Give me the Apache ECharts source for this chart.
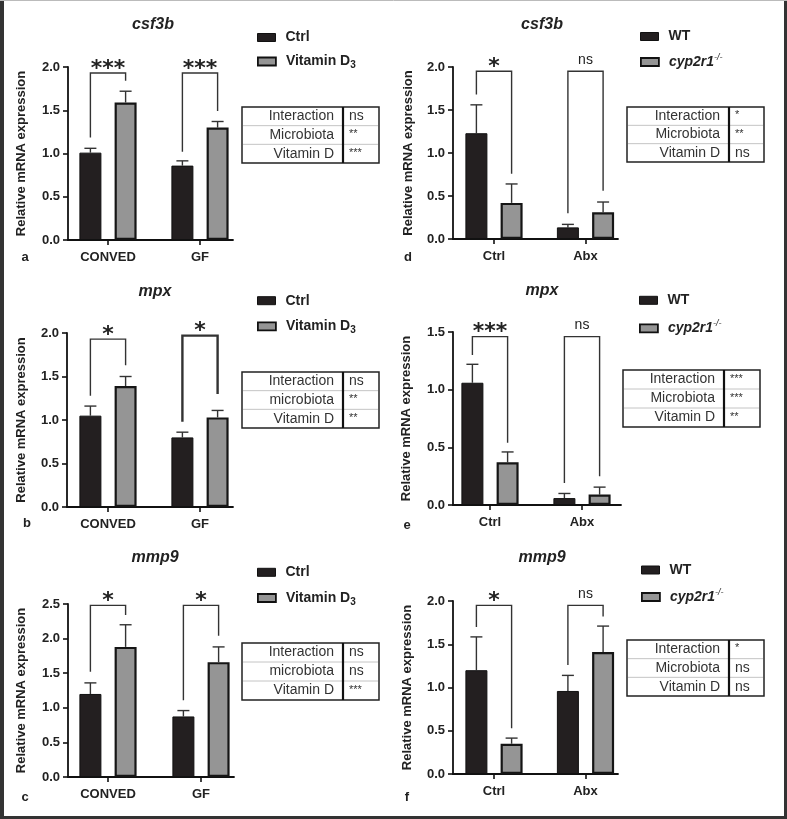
<!DOCTYPE html>
<html><head><meta charset="utf-8">
<script src="https://cdn.jsdelivr.net/npm/echarts@6/dist/echarts.min.js"></script>
<style>html,body{margin:0;padding:0;background:#fff}#c{width:787px;height:819px}</style>
</head><body><div id="c"></div>
<script>
// ---------- DATA ----------
const vitCategories = ['CONVED', 'GF'];
const abxCategories = ['Ctrl', 'Abx'];
const vitSeriesNames = ['Ctrl', 'Vitamin D3'];
const abxSeriesNames = ['WT', 'cyp2r1-/-'];
const geneTitles = ['csf3b', 'mpx', 'mmp9', 'csf3b', 'mpx', 'mmp9'];
const panelLetters = ['a', 'b', 'c', 'd', 'e', 'f'];
const yTickMax = [2.0, 2.0, 2.5, 2.0, 1.5, 2.0];
const yTickInterval = 0.5;
const yAxisTitle = 'Relative mRNA expression';

// panel a: csf3b, Ctrl vs Vitamin D3
const csf3bVitCtrl = [1.01, 0.86];
const csf3bVitCtrlSem = [0.05, 0.055];
const csf3bVitD3 = [1.59, 1.30];
const csf3bVitD3Sem = [0.13, 0.07];
// panel b: mpx
const mpxVitCtrl = [1.05, 0.80];
const mpxVitCtrlSem = [0.11, 0.06];
const mpxVitD3 = [1.39, 1.03];
const mpxVitD3Sem = [0.11, 0.08];
// panel c: mmp9
const mmp9VitCtrl = [1.20, 0.875];
const mmp9VitCtrlSem = [0.16, 0.085];
const mmp9VitD3 = [1.88, 1.66];
const mmp9VitD3Sem = [0.32, 0.22];
// panel d: csf3b WT vs cyp2r1-/-
const csf3bWT = [1.23, 0.135];
const csf3bWTSem = [0.33, 0.035];
const csf3bCyp = [0.42, 0.31];
const csf3bCypSem = [0.22, 0.12];
// panel e: mpx
const mpxWT = [1.06, 0.06];
const mpxWTSem = [0.16, 0.04];
const mpxCyp = [0.37, 0.09];
const mpxCypSem = [0.09, 0.065];
// panel f: mmp9
const mmp9WT = [1.20, 0.96];
const mmp9WTSem = [0.385, 0.18];
const mmp9Cyp = [0.35, 1.41];
const mmp9CypSem = [0.065, 0.30];

// significance brackets: [bracket top, left leg end, right leg end]
const csf3bVitBrackets = [[1.93, 1.185, 1.84], [1.93, 1.02, 1.49]];
const csf3bVitSig = ['***', '***'];
const mpxVitBrackets = [[1.93, 1.28, 1.63], [1.97, 0.98, 1.30]];
const mpxVitSig = ['*', '*'];
const mmp9VitBrackets = [[2.48, 1.52, 2.34], [2.48, 1.11, 2.04]];
const mmp9VitSig = ['*', '*'];
const csf3bAbxBrackets = [[1.95, 1.68, 0.76], [1.95, 0.30, 0.56]];
const csf3bAbxSig = ['*', 'ns'];
const mpxAbxBrackets = [[1.46, 1.30, 0.54], [1.46, 0.19, 0.25]];
const mpxAbxSig = ['***', 'ns'];
const mmp9AbxBrackets = [[1.95, 1.70, 0.53], [1.95, 1.26, 1.82]];
const mmp9AbxSig = ['*', 'ns'];

// two-way ANOVA tables
const tableRowsUpper = ['Interaction', 'Microbiota', 'Vitamin D'];
const tableRowsLower = ['Interaction', 'microbiota', 'Vitamin D'];
const csf3bVitTable = ['ns', '**', '***'];
const mpxVitTable = ['ns', '**', '**'];
const mmp9VitTable = ['ns', 'ns', '***'];
const csf3bAbxTable = ['*', '**', 'ns'];
const mpxAbxTable = ['***', '***', '**'];
const mmp9AbxTable = ['*', 'ns', 'ns'];

// ---------- LAYOUT ----------
const FONT = '"Liberation Sans", Arial, sans-serif';
const BAR_W = 22, BAR_GAP = 0.6;
const HALF = (BAR_W + BAR_W * BAR_GAP) / 2;
const CAP = 6;
const DARK = '#231f20', GRAY = '#959595', INK = '#222';

const panels = [
  {cats: vitCategories, names: vitSeriesNames, s: [csf3bVitCtrl, csf3bVitD3], e: [csf3bVitCtrlSem, csf3bVitD3Sem], br: csf3bVitBrackets, sig: csf3bVitSig, rows: tableRowsUpper, tbl: csf3bVitTable, thick: -1,
   L: {ax: 68, axEnd: 233, top: 67, bottom: 240, c0: 108, c1: 200, nameGap: 40, tx: 153, ty: 25, lx: 25, ly: 257, legX: 257, legY: [39.5, 63.5], box: [242, 107, 379, 163, 343]}},
  {cats: vitCategories, names: vitSeriesNames, s: [mpxVitCtrl, mpxVitD3], e: [mpxVitCtrlSem, mpxVitD3Sem], br: mpxVitBrackets, sig: mpxVitSig, rows: tableRowsLower, tbl: mpxVitTable, thick: 1,
   L: {ax: 67, axEnd: 233, top: 333, bottom: 507, c0: 108, c1: 200, nameGap: 39, tx: 155, ty: 292, lx: 27, ly: 523, legX: 257, legY: [302.7, 328.3], box: [242, 372, 379, 428, 343]}},
  {cats: vitCategories, names: vitSeriesNames, s: [mmp9VitCtrl, mmp9VitD3], e: [mmp9VitCtrlSem, mmp9VitD3Sem], br: mmp9VitBrackets, sig: mmp9VitSig, rows: tableRowsLower, tbl: mmp9VitTable, thick: -1,
   L: {ax: 68, axEnd: 234, top: 604, bottom: 777, c0: 108, c1: 201, nameGap: 40, tx: 155, ty: 558, lx: 25, ly: 797, legX: 257, legY: [574.3, 600], box: [242, 643, 379, 700, 343]}},
  {cats: abxCategories, names: abxSeriesNames, s: [csf3bWT, csf3bCyp], e: [csf3bWTSem, csf3bCypSem], br: csf3bAbxBrackets, sig: csf3bAbxSig, rows: tableRowsUpper, tbl: csf3bAbxTable, thick: -1,
   L: {ax: 453, axEnd: 618, top: 67, bottom: 239, c0: 494, c1: 585.5, nameGap: 38, tx: 542, ty: 25, lx: 408, ly: 257, legX: 640, legY: [38.5, 62], box: [627, 107, 764, 162, 729]}},
  {cats: abxCategories, names: abxSeriesNames, s: [mpxWT, mpxCyp], e: [mpxWTSem, mpxCypSem], br: mpxAbxBrackets, sig: mpxAbxSig, rows: tableRowsUpper, tbl: mpxAbxTable, thick: -1,
   L: {ax: 453, axEnd: 621, top: 332, bottom: 505, c0: 490, c1: 582, nameGap: 40, tx: 542, ty: 291, lx: 407, ly: 525, legX: 639, legY: [302.3, 328.3], box: [623, 370, 760, 427, 724]}},
  {cats: abxCategories, names: abxSeriesNames, s: [mmp9WT, mmp9Cyp], e: [mmp9WTSem, mmp9CypSem], br: mmp9AbxBrackets, sig: mmp9AbxSig, rows: tableRowsUpper, tbl: mmp9AbxTable, thick: -1,
   L: {ax: 453, axEnd: 618, top: 601, bottom: 774, c0: 494, c1: 585.5, nameGap: 39, tx: 542, ty: 558, lx: 407, ly: 797, legX: 641, legY: [572, 597], box: [627, 640, 764, 696, 729]}}
];

// ---------- RENDERERS ----------
function errRender(params, api) {
  const cat = api.value(0), m = api.value(1), s = api.value(2), slot = api.value(3);
  const b = api.coord([cat, m]);
  const t = api.coord([cat, m + s]);
  const x = b[0] + slot * HALF;
  return {type: 'group', children: [
    {type: 'line', shape: {x1: x, y1: b[1], x2: x, y2: t[1]}, style: {stroke: '#333', lineWidth: 1.4}},
    {type: 'line', shape: {x1: x - CAP, y1: t[1], x2: x + CAP, y2: t[1]}, style: {stroke: '#333', lineWidth: 1.4}}
  ]};
}
function bracketRender(sigArr, thickIdx) {
  return function (params, api) {
    const cat = api.value(0);
    const pT = api.coord([cat, api.value(1)]);
    const pL = api.coord([cat, api.value(2)]);
    const pR = api.coord([cat, api.value(3)]);
    const xl = pT[0] - HALF, xr = pT[0] + HALF;
    const lw = thickIdx === params.dataIndex ? 2.4 : 1.4;
    const txt = sigArr[params.dataIndex];
    const isNs = txt === 'ns';
    return {type: 'group', children: [
      {type: 'polyline', shape: {points: [[xl, pL[1]], [xl, pT[1]], [xr, pT[1]], [xr, pR[1]]]}, style: {stroke: '#333', lineWidth: lw, fill: null}},
      {type: 'text', x: pT[0], y: pT[1] - (isNs ? 11 : 4),
       style: {text: txt, align: 'center', verticalAlign: 'middle', fill: INK,
               font: isNs ? '14px ' + FONT : 'bold 22px "DejaVu Sans", sans-serif'}}
    ]};
  };
}

// ---------- BUILD OPTION ----------
const grid = [], xAxis = [], yAxis = [], series = [], legend = [], graphic = [];

panels.forEach((p, i) => {
  const L = p.L;
  const band = L.c1 - L.c0;
  const gBleft = L.c0 - band / 2;
  const h = L.bottom - L.top;
  grid.push({left: L.ax, top: L.top, width: L.axEnd - L.ax, height: h, containLabel: false});
  grid.push({left: gBleft, top: L.top, width: band * 2, height: h, containLabel: false});
  const gA = 2 * i, gB = 2 * i + 1;
  xAxis.push({type: 'value', gridIndex: gA, min: 0, max: 1, axisLine: {show: true, lineStyle: {color: '#111', width: 1.8}},
              axisTick: {show: false}, axisLabel: {show: false}, splitLine: {show: false}});
  xAxis.push({type: 'category', gridIndex: gB, data: p.cats, boundaryGap: true,
              axisLine: {show: false}, axisTick: {show: true, alignWithLabel: true, length: 5, lineStyle: {color: '#111', width: 1.6}},
              axisLabel: {margin: 11, color: INK, fontWeight: 'bold', fontSize: 13, fontFamily: FONT}, splitLine: {show: false}});
  yAxis.push({type: 'value', gridIndex: gA, min: 0, max: yTickMax[i], interval: yTickInterval,
              axisLine: {show: true, lineStyle: {color: '#111', width: 1.8}},
              axisTick: {show: true, length: 5, lineStyle: {color: '#111', width: 1.6}},
              axisLabel: {margin: 8, color: INK, fontWeight: 'bold', fontSize: 13, fontFamily: FONT, formatter: v => v.toFixed(1)},
              splitLine: {show: false},
              name: yAxisTitle, nameLocation: 'middle', nameGap: L.nameGap,
              nameTextStyle: {color: INK, fontWeight: 'bold', fontSize: 13, fontFamily: FONT}});
  yAxis.push({type: 'value', gridIndex: gB, min: 0, max: yTickMax[i], show: false, splitLine: {show: false}});

  series.push({type: 'bar', name: p.names[0], xAxisIndex: gB, yAxisIndex: gB, data: p.s[0], barWidth: BAR_W, barGap: (BAR_GAP * 100) + '%',
               itemStyle: {color: DARK, borderColor: '#111', borderWidth: 1}, z: 3});
  series.push({type: 'bar', name: p.names[1], xAxisIndex: gB, yAxisIndex: gB, data: p.s[1], barWidth: BAR_W, barGap: (BAR_GAP * 100) + '%',
               itemStyle: {color: GRAY, borderColor: '#151515', borderWidth: 2.2}, z: 3});
  const errData = [];
  p.s[0].forEach((v, k) => errData.push([k, v, p.e[0][k], -1]));
  p.s[1].forEach((v, k) => errData.push([k, v, p.e[1][k], 1]));
  series.push({type: 'custom', xAxisIndex: gB, yAxisIndex: gB, renderItem: errRender, data: errData, z: 2, silent: true});
  series.push({type: 'custom', xAxisIndex: gB, yAxisIndex: gB, renderItem: bracketRender(p.sig, p.thick),
               data: p.br.map((b, k) => [k, b[0], b[1], b[2]]), z: 4, silent: true});

  p.names.forEach((nm, k) => {
    legend.push({
      data: [nm], left: L.legX, top: L.legY[k] - 9, padding: 0, orient: 'vertical',
      itemWidth: 18, itemHeight: 8, icon: 'rect', selectedMode: false,
      itemStyle: {color: k === 0 ? DARK : GRAY, borderColor: '#111', borderWidth: k === 0 ? 1 : 1.8},
      formatter: function (name) {
        if (name === 'Vitamin D3') return '{n|Vitamin D}{sub|3}';
        if (name === 'cyp2r1-/-') return '{i|cyp2r1}{sup|-/-}';
        return '{n|' + name + '}';
      },
      textStyle: {rich: {
        n: {fontSize: 14, fontWeight: 'bold', fontFamily: FONT, color: INK, lineHeight: 18, padding: [0, 0, 0, 5]},
        i: {fontSize: 14, fontWeight: 'bold', fontStyle: 'italic', fontFamily: FONT, color: INK, lineHeight: 18, padding: [0, 0, 0, 5]},
        sub: {fontSize: 10, fontWeight: 'bold', fontFamily: FONT, color: INK, lineHeight: 9, verticalAlign: 'bottom'},
        sup: {fontSize: 9, fontStyle: 'italic', fontFamily: FONT, color: INK, lineHeight: 9, verticalAlign: 'top'}
      }}
    });
  });

  graphic.push({type: 'text', x: L.tx, y: L.ty, style: {text: geneTitles[i], align: 'center', verticalAlign: 'middle', fill: INK,
                font: 'italic bold 16px ' + FONT}});
  graphic.push({type: 'text', x: L.lx, y: L.ly, style: {text: panelLetters[i], align: 'center', verticalAlign: 'middle', fill: INK,
                font: 'bold 13px ' + FONT}});

  const [x0, y0, x1, y1, xd] = L.box;
  const rh = (y1 - y0) / 3;
  graphic.push({type: 'rect', shape: {x: x0, y: y0, width: x1 - x0, height: y1 - y0}, style: {fill: '#fff', stroke: '#222', lineWidth: 1.5}, z: 1});
  for (let r = 1; r < 3; r++) {
    graphic.push({type: 'line', shape: {x1: x0 + 1, y1: y0 + rh * r, x2: x1 - 1, y2: y0 + rh * r}, style: {stroke: '#c4c4c4', lineWidth: 1}, z: 2});
  }
  graphic.push({type: 'line', shape: {x1: xd, y1: y0, x2: xd, y2: y1}, style: {stroke: '#111', lineWidth: 2.2}, z: 3});
  p.rows.forEach((lab, r) => {
    const cy = y0 + rh * (r + 0.5);
    graphic.push({type: 'text', x: xd - 9, y: cy, style: {text: lab, align: 'right', verticalAlign: 'middle', fill: '#333', font: '14px ' + FONT}, z: 4});
    const v = p.tbl[r];
    const isStar = v.indexOf('*') >= 0;
    graphic.push({type: 'text', x: xd + 6, y: isStar ? cy - 1 : cy, style: {text: v, align: 'left', verticalAlign: 'middle', fill: '#333',
                  font: (isStar ? '11px ' : '14px ') + FONT}, z: 4});
  });
});

graphic.push({type: 'line', shape: {x1: 2, y1: 0, x2: 2, y2: 819}, style: {stroke: '#333', lineWidth: 4}, z: 10});
graphic.push({type: 'line', shape: {x1: 785.5, y1: 0, x2: 785.5, y2: 819}, style: {stroke: '#333', lineWidth: 3}, z: 10});
graphic.push({type: 'line', shape: {x1: 0, y1: 817.5, x2: 787, y2: 817.5}, style: {stroke: '#333', lineWidth: 3}, z: 10});
graphic.push({type: 'line', shape: {x1: 0, y1: 0.5, x2: 787, y2: 0.5}, style: {stroke: '#bbb', lineWidth: 1}, z: 10});

const chart = echarts.init(document.getElementById('c'), null, {renderer: 'canvas'});
chart.setOption({animation: false, backgroundColor: '#fff', grid, xAxis, yAxis, series, legend, graphic});
</script>
</body></html>
